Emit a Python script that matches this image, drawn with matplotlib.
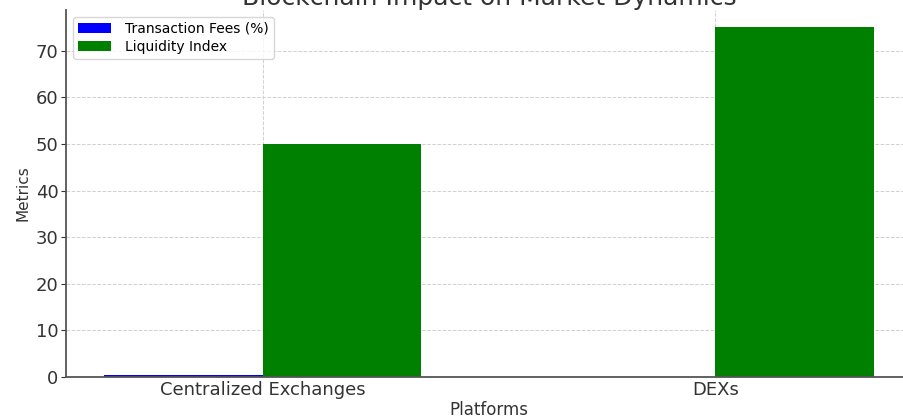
import numpy as np
import matplotlib.pyplot as plt

platforms = ["Centralized Exchanges", "DEXs"]
transaction_fees = [0.5, 0.1]
liquidity_index = [50, 75]

x = np.arange(len(platforms))
width = 0.35

fig = plt.figure(figsize=(9.04, 4.17), dpi=100)
ax = fig.add_axes([0.073, 0.096, 0.936, 0.880])

ax.bar(x - width/2, transaction_fees, width, color='blue', label='Transaction Fees (%)')
ax.bar(x + width/2, liquidity_index, width, color='green', label='Liquidity Index')

ax.set_title('Blockchain Impact on Market Dynamics', fontsize=18, color='#333333', pad=-2)
ax.set_xlabel('Platforms', fontsize=12, color='#333333', labelpad=1)
ax.set_ylabel('Metrics', fontsize=11, color='#333333')
ax.set_xticks(x)
ax.set_xticklabels(platforms)
ax.tick_params(labelsize=13, colors='#333333')
ax.tick_params(axis='x', length=0, pad=3)
ax.tick_params(axis='y', pad=2)
ax.grid(True, linestyle='--', color='#d0d0d0', linewidth=0.7)
ax.set_axisbelow(True)
for s in ['top', 'right']:
    ax.spines[s].set_visible(False)
for s in ['left', 'bottom']:
    ax.spines[s].set_color('#555555')
    ax.spines[s].set_linewidth(1.3)
ax.legend(loc='upper left', fontsize=10, handlelength=2.4, labelspacing=0.3,
          borderpad=0.35, handletextpad=1.0)

fig.savefig('out.png', dpi=100)
